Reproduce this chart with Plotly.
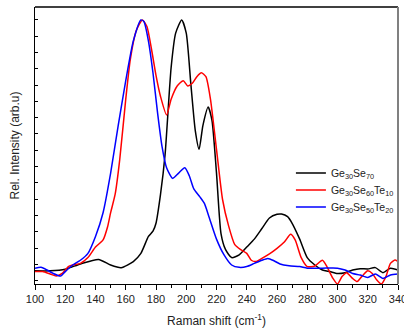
import plotly.graph_objects as go

x_black = [100,110,120,130,142,150,157,165,170,175,178,180,183,186,190,193,197,200,203,206,208.5,211,214.5,217,220,223,226,230,235,240,245,250,255,260,263,267,270,275,280,285,290,295,300,305,310,315,320,325,330,335,340]
y_black = [0.05,0.05,0.056,0.076,0.093,0.072,0.062,0.085,0.116,0.18,0.2,0.23,0.34,0.49,0.82,0.95,1.0,0.95,0.76,0.58,0.51,0.6,0.67,0.62,0.42,0.19,0.13,0.10,0.11,0.14,0.17,0.21,0.25,0.264,0.265,0.255,0.23,0.17,0.10,0.072,0.053,0.047,0.04,0.043,0.053,0.058,0.057,0.062,0.043,0.06,0.053]

x_red = [100,105,110,114,118,122,125,130,135,140,145,148,150,153,156,160,163,167,171,174,177,180,183,187,190,194,198,201,204,207,210,213,216,220,224,228,232,236,240,243,246,250,255,260,265,269,272,276,280,285,290,293,297,300,303,306,310,313,316,320,323,326,329,332,335,338,340]
y_red = [0.047,0.047,0.038,0.03,0.04,0.066,0.072,0.078,0.10,0.14,0.167,0.217,0.27,0.34,0.47,0.70,0.85,0.96,1.0,0.975,0.89,0.79,0.71,0.64,0.70,0.75,0.77,0.75,0.76,0.785,0.80,0.785,0.70,0.51,0.32,0.22,0.15,0.13,0.116,0.09,0.085,0.097,0.114,0.135,0.16,0.188,0.167,0.10,0.066,0.068,0.09,0.066,0.021,0.0,0.028,0.043,0.021,0.009,0.028,0.05,0.04,0.015,0.0,0.028,0.078,0.091,0.085]

x_blue = [100,104,108,112,117,120,125,130,135,140,145,150,155,160,165,170,172,175,178,181,184,187,191,195,199,202,205,209,212,215,220,225,230,235,240,245,250,254,258,262,268,275,280,290,300,305,310,315,320,325,330,335,340]
y_blue = [0.06,0.063,0.053,0.04,0.03,0.047,0.072,0.09,0.116,0.18,0.27,0.42,0.60,0.77,0.92,1.0,0.994,0.92,0.80,0.65,0.52,0.44,0.40,0.42,0.44,0.41,0.36,0.33,0.305,0.255,0.17,0.11,0.072,0.063,0.066,0.078,0.09,0.097,0.088,0.076,0.069,0.066,0.06,0.06,0.06,0.053,0.04,0.034,0.025,0.038,0.021,0.034,0.038]

names = ["Ge<sub>30</sub>Se<sub>70</sub>", "Ge<sub>30</sub>Se<sub>60</sub>Te<sub>10</sub>", "Ge<sub>30</sub>Se<sub>50</sub>Te<sub>20</sub>"]
x_ticks = list(range(100, 341, 20))

fig = go.Figure()
series = [(x_black, y_black, names[0], "black", "legend"),
          (x_red, y_red, names[1], "red", "legend2"),
          (x_blue, y_blue, names[2], "blue", "legend3")]
for xs, ys, nm, col, lg in series:
    fig.add_trace(go.Scatter(x=xs, y=ys, mode="lines", name=nm, legend=lg,
                             line=dict(color=col, width=1.5, shape="spline", smoothing=0.6)))

leg_common = dict(x=0.705, xanchor="left", yanchor="middle",
                  bgcolor="rgba(0,0,0,0)", font=dict(size=10.5), itemwidth=30)

fig.update_layout(
    width=404, height=330,
    margin=dict(l=35, r=6, t=7, b=46, autoexpand=False),
    paper_bgcolor="white", plot_bgcolor="white",
    font=dict(family="Liberation Sans, Arial, sans-serif", size=11, color="#222"),
    showlegend=True,
    legend=dict(y=0.401, **leg_common),
    legend2=dict(y=0.339, **leg_common),
    legend3=dict(y=0.278, **leg_common),
    xaxis=dict(range=[100, 340], tickvals=x_ticks, ticks="outside", ticklen=5,
               tickcolor="black", showline=True, linecolor="black", linewidth=1,
               mirror=False, showgrid=False, zeroline=False, automargin=False,
               ticklabeloverflow="allow",
               minor=dict(dtick=10, tick0=100, ticks="outside", ticklen=3, tickcolor="black"),
               title=dict(text="Raman shift (cm<sup>-1</sup>)", font=dict(size=12), standoff=12),
               tickfont=dict(size=11)),
    yaxis=dict(range=[0, 1.049], tick0=1.0, dtick=0.0617, ticks="inside", ticklen=3,
               tickcolor="black", showticklabels=False, showline=True, linecolor="black",
               linewidth=1, showgrid=False, zeroline=False, automargin=False,
               title=dict(text="Rel. Intensity (arb.u)", font=dict(size=12), standoff=11)),
)
fig.add_shape(type="line", xref="paper", yref="paper", x0=0, x1=1, y0=1, y1=1,
              line=dict(color="black", width=1.5))
fig.add_shape(type="line", xref="paper", yref="paper", x0=1, x1=1, y0=0, y1=1,
              line=dict(color="gray", width=2))
fig.write_html("out.html", config={"displayModeBar": False},
               post_script="document.body.style.margin='0';document.body.style.overflow='hidden';")
